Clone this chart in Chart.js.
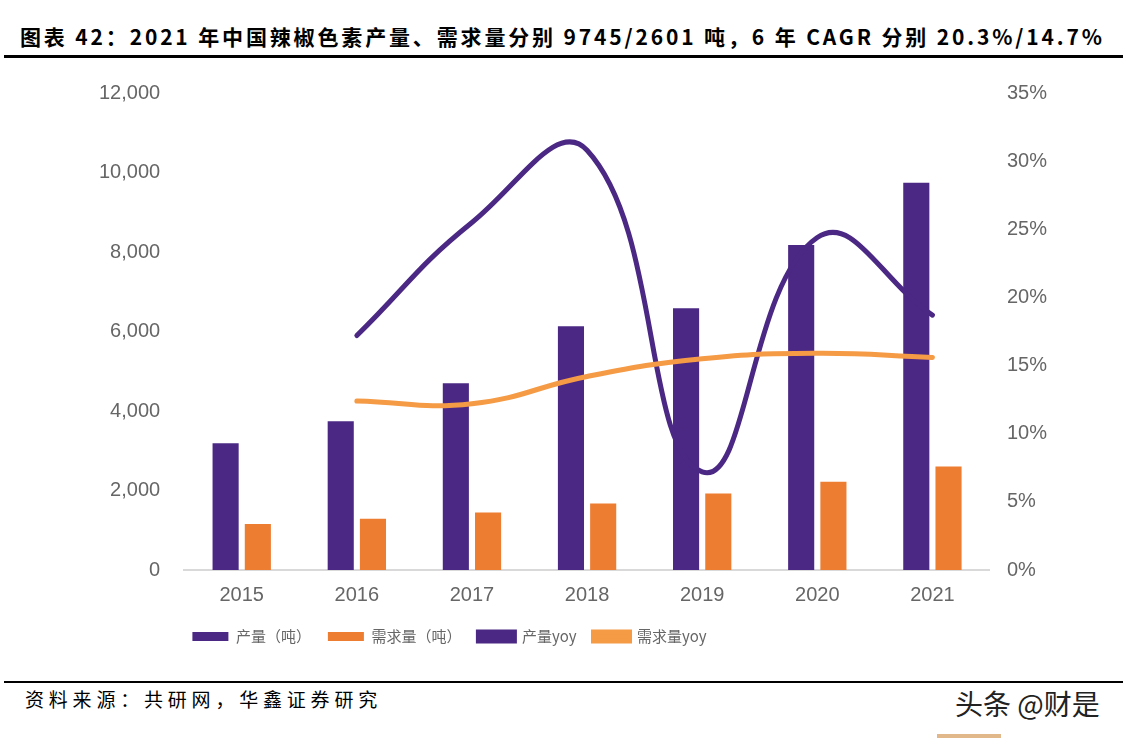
<!DOCTYPE html>
<html>
<head>
<meta charset="utf-8">
<script src="https://cdn.jsdelivr.net/npm/chart.js@4.4.1/dist/chart.umd.min.js"></script>
<style>
  body { margin: 0; background: #fff; width: 1123px; height: 738px; position: relative; overflow: hidden; }
  #title { position: absolute; left: 20px; top: 21px; font-family: "Noto Sans CJK SC", sans-serif; font-weight: bold; font-size: 21px; color: #000; white-space: nowrap; letter-spacing: 2.85px; }
  #rule1 { position: absolute; left: 4px; right: 0; top: 55px; height: 3px; background: #000; }
  #rule2 { position: absolute; left: 4px; right: 0; top: 681px; height: 2px; background: #000; }
  #source { position: absolute; left: 25px; top: 685px; font-family: "Noto Sans CJK SC", sans-serif; font-size: 19px; letter-spacing: 4.8px; color: #000; }
  #mark { position: absolute; left: 955px; top: 683px; font-family: "Noto Sans CJK SC", sans-serif; font-size: 28px; color: #222; }
  #tag { position: absolute; left: 937px; top: 734px; width: 64px; height: 4px; background: #e0b88a; }
  #wrap { position: absolute; left: 0; top: 65px; width: 1123px; height: 597px; }
</style>
</head>
<body>
<div id="title">图表 42：2021 年中国辣椒色素产量、需求量分别 9745/2601 吨，6 年 CAGR 分别 20.3%/14.7%</div>
<div id="rule1"></div>
<div id="wrap"><canvas id="c"></canvas></div>
<div id="rule2"></div>
<div id="source">资料来源：共研网，华鑫证券研究</div>
<div id="mark">头条 @财是</div>
<div id="tag"></div>
<script>
// 数据
const years = ['2015', '2016', '2017', '2018', '2019', '2020', '2021'];
const produccion = [3188, 3740, 4695, 6134, 6586, 8177, 9745];
const demanda = [1155, 1289, 1448, 1674, 1925, 2218, 2601];
const produccionYoy = [null, 17.2, 25.5, 30.8, 7.2, 24.4, 18.7];
const demandaYoy = [null, 12.4, 12.2, 14.2, 15.5, 15.9, 15.6];

const purple = '#4b2884';
const orange = '#ed7d31';
const orangeLine = '#f59a45';
const tickColor = '#666666';
const tickFont = { family: 'Liberation Sans', size: 20 };

// la leyenda del original no está centrada: se desplaza a la izquierda
const legendShift = {
  id: 'legendShift',
  afterLayout(chart) {
    chart.legend.left -= 120;
    chart.legend.right -= 120;
  }
};

new Chart(document.getElementById('c'), {
  data: {
    labels: years,
    datasets: [
      { type: 'bar', label: '产量（吨）', data: produccion, backgroundColor: purple, yAxisID: 'y', order: 2, categoryPercentage: 0.56, barPercentage: 0.81 },
      { type: 'bar', label: '需求量（吨）', data: demanda, backgroundColor: orange, yAxisID: 'y', order: 3, categoryPercentage: 0.56, barPercentage: 0.81 },
      { type: 'line', label: '产量yoy', data: produccionYoy, borderColor: purple, backgroundColor: purple, borderWidth: 5, tension: 0.45, pointRadius: 0, yAxisID: 'y1', order: 1, borderCapStyle: 'round' },
      { type: 'line', label: '需求量yoy', data: demandaYoy, borderColor: orangeLine, backgroundColor: orangeLine, borderWidth: 5, tension: 0.45, pointRadius: 0, yAxisID: 'y1', order: 0, borderCapStyle: 'round' }
    ]
  },
  plugins: [legendShift],
  options: {
    responsive: true,
    maintainAspectRatio: false,
    animation: false,
    layout: { padding: { top: 19, bottom: 8, left: 83, right: 67 } },
    plugins: {
      tooltip: { enabled: false },
      legend: {
        position: 'bottom',
        labels: {
          sort: (a, b) => a.datasetIndex - b.datasetIndex,
          boxWidth: 36, boxHeight: 9, padding: 17,
          color: tickColor,
          font: { family: '"Noto Sans CJK SC", sans-serif', size: 15 }
        }
      }
    },
    scales: {
      x: {
        grid: { display: false },
        border: { color: '#d9d9d9', width: 2 },
        ticks: { color: tickColor, font: tickFont, padding: 5 }
      },
      y: {
        position: 'left',
        min: 0, max: 12000,
        grid: { display: false },
        border: { display: false },
        ticks: {
          stepSize: 2000, color: tickColor, font: tickFont, padding: 16,
          callback: v => v.toLocaleString('en-US')
        }
      },
      y1: {
        position: 'right',
        min: 0, max: 35,
        grid: { display: false },
        border: { display: false },
        ticks: { stepSize: 5, color: tickColor, font: tickFont, padding: 9, callback: v => v + '%' }
      }
    }
  }
});
</script>
</body>
</html>
